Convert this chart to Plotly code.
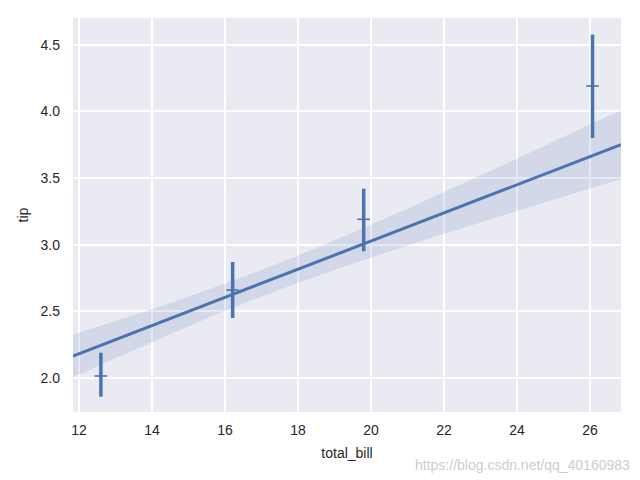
import plotly.graph_objects as go

# Binned means with confidence intervals
bin_x = [12.60, 16.21, 19.80, 26.07]
bin_mean = [2.015, 2.66, 3.19, 4.19]
bin_ci_low = [1.86, 2.45, 2.95, 3.80]
bin_ci_high = [2.19, 2.87, 3.42, 4.575]

# Regression line endpoints
reg_x = [11.836, 26.85]
reg_y = [2.165, 3.75]

# Confidence band
band_x = [11.836, 13, 14, 15, 16, 17, 18, 19, 20, 21, 22, 23, 24, 25, 26, 26.85]
band_upper = [2.325, 2.427, 2.517, 2.610, 2.708, 2.810, 2.919, 3.032,
              3.151, 3.272, 3.395, 3.521, 3.646, 3.774, 3.901, 4.009]
band_lower = [2.005, 2.149, 2.269, 2.388, 2.502, 2.610, 2.713, 2.810,
              2.903, 2.994, 3.081, 3.167, 3.252, 3.336, 3.421, 3.491]

x_ticks = [12, 14, 16, 18, 20, 22, 24, 26]
y_ticks = [2.0, 2.5, 3.0, 3.5, 4.0, 4.5]

blue = "#4C72B0"

fig = go.Figure()

fig.add_trace(go.Scatter(x=band_x, y=band_upper, mode="lines",
                         line=dict(width=0, shape="spline"), hoverinfo="skip",
                         showlegend=False))
fig.add_trace(go.Scatter(x=band_x, y=band_lower, mode="lines",
                         line=dict(width=0, shape="spline"), fill="tonexty",
                         fillcolor="rgba(76,114,176,0.15)", hoverinfo="skip",
                         showlegend=False))
fig.add_trace(go.Scatter(x=reg_x, y=reg_y, mode="lines",
                         line=dict(color=blue, width=3), showlegend=False))

for xv, lo, hi in zip(bin_x, bin_ci_low, bin_ci_high):
    fig.add_trace(go.Scatter(x=[xv, xv], y=[lo, hi], mode="lines",
                             line=dict(color=blue, width=3.5), showlegend=False))

fig.add_trace(go.Scatter(x=bin_x, y=bin_mean, mode="markers",
                         marker=dict(symbol="line-ew", size=9,
                                     line=dict(color=blue, width=1.6)),
                         showlegend=False))

fig.update_layout(
    width=640, height=480,
    margin=dict(l=73, r=19, t=18, b=68),
    paper_bgcolor="white",
    plot_bgcolor="#EAEAF2",
    font=dict(family="Liberation Sans, Arial, sans-serif", size=14, color="#262626"),
    xaxis=dict(range=[11.836, 26.85], tickvals=x_ticks,
               ticktext=[str(t) for t in x_ticks],
               showgrid=True, gridcolor="white", gridwidth=1.5,
               zeroline=False, showline=False, ticks="",
               ticklabelstandoff=8,
               title=dict(text="total_bill", standoff=11, font=dict(size=14))),
    yaxis=dict(range=[1.745, 4.70], tickvals=y_ticks,
               ticktext=[f"{t:.1f}" for t in y_ticks],
               showgrid=True, gridcolor="white", gridwidth=1.5,
               zeroline=False, showline=False, ticks="",
               ticklabelstandoff=12,
               title=dict(text="tip", standoff=8, font=dict(size=14))),
    annotations=[dict(text="https://blog.csdn.net/qq_40160983",
                      xref="paper", yref="paper", x=1.02, y=-0.135,
                      xanchor="right", yanchor="middle", showarrow=False,
                      font=dict(size=14, color="rgba(190,190,190,0.8)"))],
)

fig.write_html("out.html")
